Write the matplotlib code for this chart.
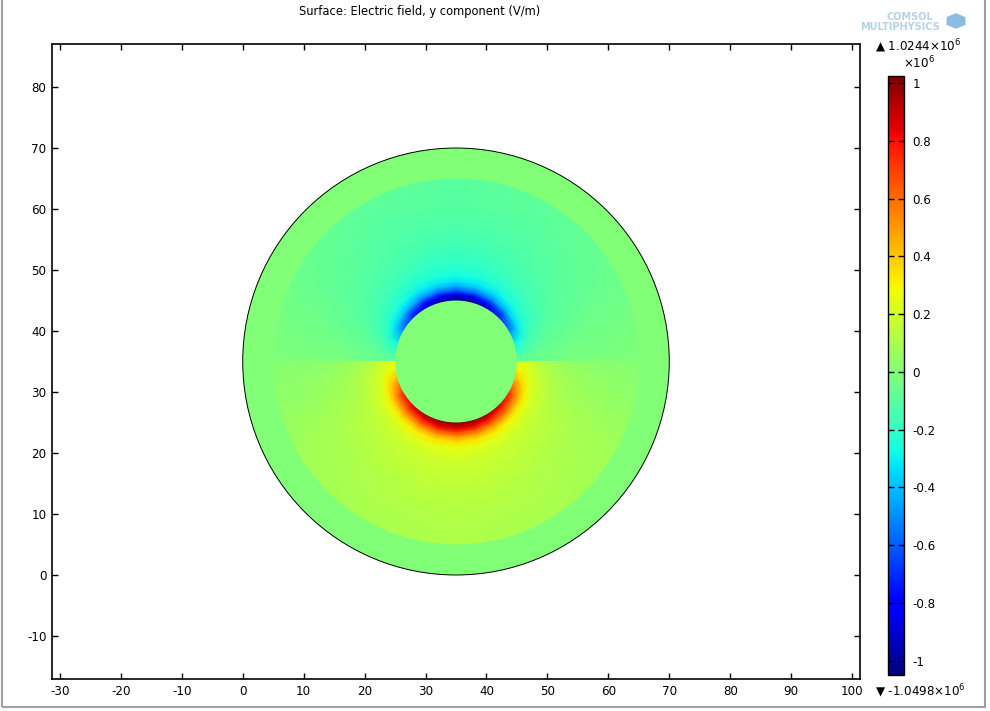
import numpy as np
import matplotlib
matplotlib.use('Agg')
import matplotlib.pyplot as plt
from matplotlib.patches import Circle, Wedge, Rectangle, RegularPolygon
from matplotlib.colors import Normalize

plt.rcParams['axes.unicode_minus'] = False

# geometry (mm)
center = (35.0, 35.0)
r_inner = 10.0
r_field = 30.0
r_outer = 35.0

# Ey in 1e6 V/m
e_min = -1.0498
e_max = 1.0244

radii = np.array([10, 10.5, 11, 11.75, 12.5, 13.25, 14.25, 16, 19, 23, 27, 30])

# upper half, right quadrant (angle in degrees from +x)
upper_angles = np.array([0, 8, 18, 30, 45, 60, 75, 90])
upper_vals = np.array([
    [-0.07, -0.07, -0.065, -0.06, -0.055, -0.05, -0.045, -0.035, -0.02, -0.015, -0.01, -0.01],
    [-0.16, -0.15, -0.14, -0.12, -0.10, -0.085, -0.07, -0.055, -0.04, -0.03, -0.025, -0.02],
    [-0.30, -0.28, -0.25, -0.20, -0.17, -0.14, -0.12, -0.09, -0.07, -0.05, -0.04, -0.035],
    [-0.52, -0.47, -0.42, -0.31, -0.25, -0.20, -0.17, -0.13, -0.10, -0.08, -0.065, -0.055],
    [-0.74, -0.67, -0.58, -0.40, -0.31, -0.25, -0.21, -0.16, -0.12, -0.10, -0.085, -0.075],
    [-0.92, -0.84, -0.72, -0.50, -0.37, -0.29, -0.24, -0.18, -0.14, -0.11, -0.095, -0.085],
    [-1.01, -0.93, -0.82, -0.56, -0.40, -0.31, -0.25, -0.20, -0.155, -0.12, -0.10, -0.09],
    [-1.04, -0.96, -0.86, -0.58, -0.42, -0.32, -0.26, -0.21, -0.16, -0.125, -0.105, -0.095],
])

# lower half, right quadrant
lower_angles = np.array([0, -8, -18, -30, -45, -60, -75, -90])
lower_vals = np.array([
    [0.22, 0.22, 0.21, 0.19, 0.17, 0.14, 0.11, 0.07, 0.04, 0.025, 0.015, 0.01],
    [0.30, 0.29, 0.27, 0.24, 0.21, 0.18, 0.15, 0.11, 0.07, 0.05, 0.035, 0.03],
    [0.47, 0.43, 0.39, 0.32, 0.26, 0.21, 0.17, 0.13, 0.09, 0.07, 0.055, 0.05],
    [0.74, 0.67, 0.59, 0.45, 0.33, 0.25, 0.20, 0.15, 0.12, 0.10, 0.085, 0.075],
    [0.88, 0.80, 0.70, 0.54, 0.39, 0.29, 0.22, 0.17, 0.14, 0.115, 0.10, 0.09],
    [0.97, 0.89, 0.78, 0.61, 0.44, 0.32, 0.24, 0.185, 0.15, 0.125, 0.11, 0.10],
    [1.01, 0.93, 0.83, 0.65, 0.47, 0.34, 0.25, 0.195, 0.16, 0.135, 0.115, 0.105],
    [1.02, 0.94, 0.84, 0.66, 0.48, 0.35, 0.255, 0.20, 0.165, 0.14, 0.12, 0.11],
])

x_ticks = list(range(-30, 101, 10))
y_ticks = list(range(-10, 81, 10))
cbar_ticks = [-1, -0.8, -0.6, -0.4, -0.2, 0, 0.2, 0.4, 0.6, 0.8, 1]
cbar_labels = ['-1', '-0.8', '-0.6', '-0.4', '-0.2', '0', '0.2', '0.4', '0.6', '0.8', '1']


def mirror_half(angles, vals, sign):
    # reflect the quadrant about the vertical axis through the center
    ang = np.concatenate([angles, sign * 180 - angles[-2::-1]])
    v = np.vstack([vals, vals[-2::-1]])
    return ang, v


def half_mesh(ax, angles, vals, norm):
    r_mesh = radii.astype(float).copy()
    r_mesh[-1] = r_field + 0.5  # pushed under the outer ring so no gap shows
    R, T = np.meshgrid(r_mesh, np.deg2rad(angles))
    X = center[0] + R * np.cos(T)
    Y = center[1] + R * np.sin(T)
    return ax.pcolormesh(X, Y, vals, cmap='jet', norm=norm, shading='gouraud', zorder=2)


fig = plt.figure(figsize=(9.9, 7.11), dpi=100)
ax = fig.add_axes([52 / 990, 32 / 711, 808 / 990, 635 / 711])
norm = Normalize(vmin=e_min, vmax=e_max)
cmap = plt.get_cmap('jet')
zero_col = cmap(norm(0.0))

ax.add_patch(Circle(center, r_outer, facecolor=zero_col, edgecolor='none', zorder=1))

ua, uv = mirror_half(upper_angles, upper_vals, 1)
la, lv = mirror_half(lower_angles, lower_vals, -1)
mesh = half_mesh(ax, ua, uv, norm)
half_mesh(ax, la, lv, norm)

ax.add_patch(Wedge(center, r_outer, 0, 360, width=r_outer - r_field,
                   facecolor=zero_col, edgecolor='none', zorder=3))
ax.add_patch(Circle(center, r_inner, facecolor=zero_col, edgecolor='none', zorder=3))
ax.add_patch(Circle(center, r_outer, facecolor='none', edgecolor='black', lw=0.7, zorder=4))

ax.set_xlim(-31.3, 101.3)
ax.set_ylim(-17.05, 87.05)
ax.set_xticks(x_ticks)
ax.set_yticks(y_ticks)
ax.tick_params(direction='in', top=True, right=True, length=4, width=1,
               labelsize=8.6, pad=4)
for s in ax.spines.values():
    s.set_linewidth(1.2)

fig.text(420 / 990, 1 - 11 / 711, 'Surface: Electric field, y component (V/m)',
         ha='center', va='center', fontsize=8.3)

# colour bar
cax = fig.add_axes([888 / 990, 36 / 711, 16 / 990, 599 / 711])
cb = fig.colorbar(mesh, cax=cax, ticks=cbar_ticks)
cb.set_ticklabels(cbar_labels)
cb.outline.set_linewidth(1)
cax.tick_params(direction='in', left=True, right=True, length=4, width=1,
                labelsize=8.6, pad=6)
fig.text(875 / 990, 1 - 46 / 711, '▲ 1.0244$\\times$10$^6$', ha='left', va='center', fontsize=8.6)
fig.text(903 / 990, 1 - 63 / 711, '$\\times$10$^6$', ha='left', va='center', fontsize=8.6)
fig.text(875 / 990, 1 - 691 / 711, '▼ -1.0498$\\times$10$^6$', ha='left', va='center', fontsize=8.6)

# COMSOL logo
logo_col = '#b5d3e8'
fig.text(910 / 990, 1 - 17 / 711, 'COMSOL', ha='center', va='center', fontsize=7,
         color=logo_col, fontweight='bold')
fig.text(940 / 990, 1 - 27 / 711, 'MULTIPHYSICS', ha='right', va='center', fontsize=7,
         color=logo_col, fontweight='bold')
fig.patches.append(RegularPolygon((956 / 990, 1 - 21 / 711), 6, radius=0.011,
                                  facecolor='#8cbde0', edgecolor='none',
                                  transform=fig.transFigure, figure=fig))

# window frame
fig.patches.append(Rectangle((2 / 990, 4 / 711), 983 / 990, 1.0, fill=False,
                             edgecolor='#a0a0a0', lw=1.5,
                             transform=fig.transFigure, figure=fig))

fig.savefig('out.png', dpi=100)
